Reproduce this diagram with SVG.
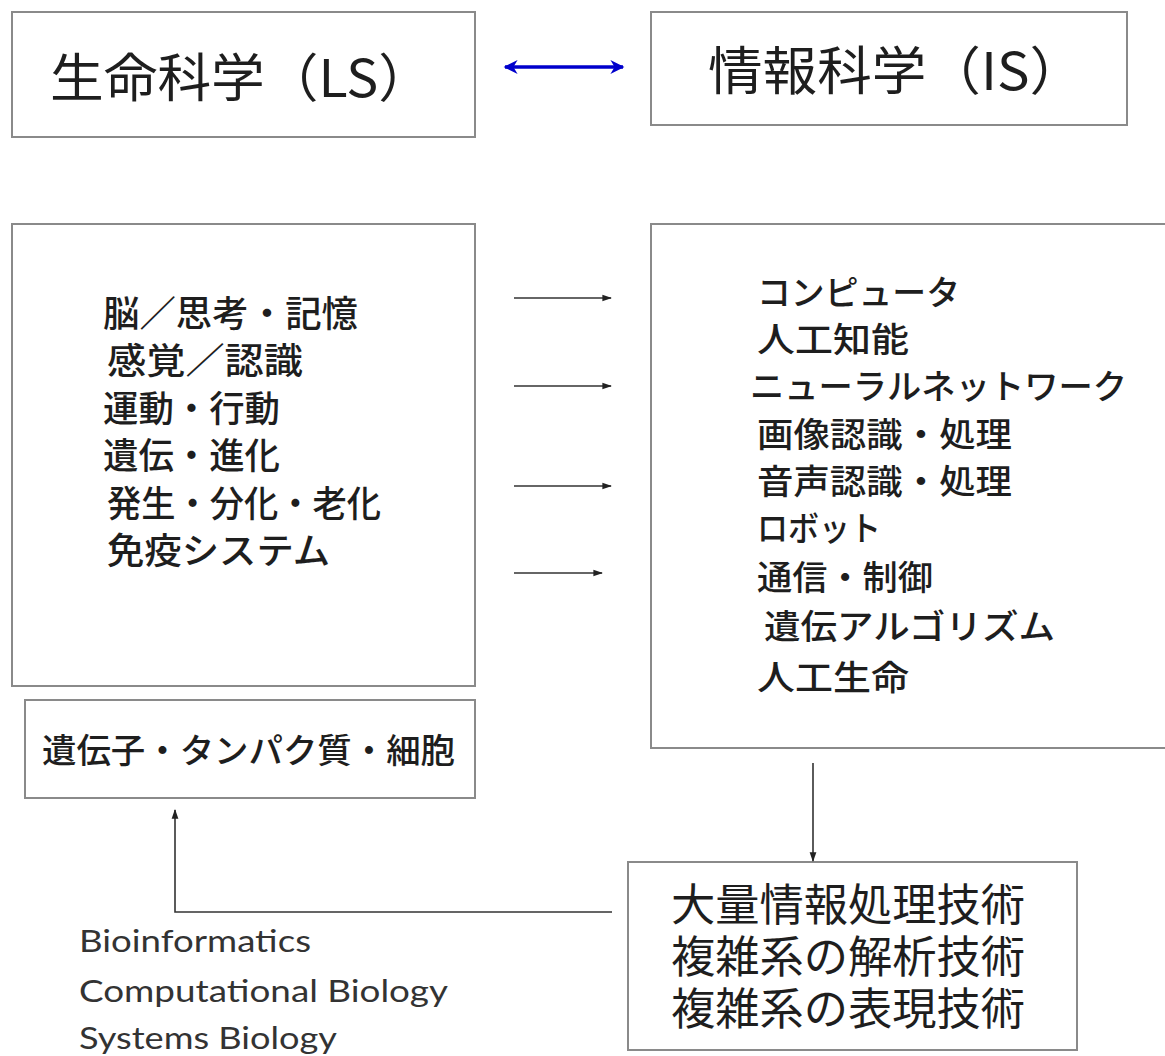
<svg xmlns="http://www.w3.org/2000/svg" width="1165" height="1056" viewBox="0 0 1165 1056">
<style>
.box{fill:#fff;stroke:#8a8a8a;stroke-width:2}
.jp{font-family:"Noto Sans CJK JP","Noto Sans CJK SC",sans-serif;fill:#1e1e1e}
.t1{font-size:52px}
.tl{font-size:36px;font-weight:500}
.tr{font-size:34px;font-weight:500}
.t3{font-size:44px}
.en{font-family:Lato,"Open Sans","Liberation Sans",sans-serif;font-size:31px;fill:#333}
.con{stroke:#333;stroke-width:1.6;fill:none}
</style>
<defs>
<marker id="ah" viewBox="0 0 10 10" refX="9" refY="5" markerWidth="6" markerHeight="6" orient="auto" markerUnits="strokeWidth">
<path d="M0,1.5 L10,5 L0,8.5 Z" fill="#222"/>
</marker>
<marker id="bh" viewBox="0 0 10 10" refX="9" refY="5" markerWidth="5.5" markerHeight="4" orient="auto-start-reverse" markerUnits="strokeWidth">
<path d="M0,0 L10,5 L0,10 L3,5 Z" fill="#0000cc"/>
</marker>
</defs>
<rect width="1165" height="1056" fill="#fff"/>
<g id="ls">
<rect class="box" x="12" y="12" width="463" height="125"/>
<text class="jp t1" x="50" y="97" textLength="382" lengthAdjust="spacingAndGlyphs">生命科学（LS）</text>
</g>
<g id="is">
<rect class="box" x="651" y="12" width="476" height="113"/>
<text class="jp t1" x="708" y="90" textLength="376" lengthAdjust="spacingAndGlyphs">情報科学（IS）</text>
</g>
<g id="ls-list">
<rect class="box" x="12" y="224" width="463" height="462"/>
<text class="jp tl" x="103" y="327" textLength="255" lengthAdjust="spacingAndGlyphs">脳／思考・記憶</text>
<text class="jp tl" x="107" y="374" textLength="196" lengthAdjust="spacingAndGlyphs">感覚／認識</text>
<text class="jp tl" x="103" y="422" textLength="177" lengthAdjust="spacingAndGlyphs">運動・行動</text>
<text class="jp tl" x="103" y="469" textLength="177" lengthAdjust="spacingAndGlyphs">遺伝・進化</text>
<text class="jp tl" x="107" y="517" textLength="274" lengthAdjust="spacingAndGlyphs">発生・分化・老化</text>
<text class="jp tl" x="107" y="564" textLength="223" lengthAdjust="spacingAndGlyphs">免疫システム</text>
</g>
<g id="is-list">
<rect class="box" x="651" y="224" width="520" height="524"/>
<text class="jp tr" x="757" y="305" textLength="203" lengthAdjust="spacingAndGlyphs">コンピュータ</text>
<text class="jp tr" x="757" y="352" textLength="152" lengthAdjust="spacingAndGlyphs">人工知能</text>
<text class="jp tr" x="750" y="399" textLength="377" lengthAdjust="spacingAndGlyphs">ニューラルネットワーク</text>
<text class="jp tr" x="757" y="447" textLength="255" lengthAdjust="spacingAndGlyphs">画像認識・処理</text>
<text class="jp tr" x="757" y="494" textLength="255" lengthAdjust="spacingAndGlyphs">音声認識・処理</text>
<text class="jp tr" x="757" y="541" textLength="124" lengthAdjust="spacingAndGlyphs">ロボット</text>
<text class="jp tr" x="757" y="590" textLength="176" lengthAdjust="spacingAndGlyphs">通信・制御</text>
<text class="jp tr" x="764" y="639" textLength="291" lengthAdjust="spacingAndGlyphs">遺伝アルゴリズム</text>
<text class="jp tr" x="757" y="690" textLength="152" lengthAdjust="spacingAndGlyphs">人工生命</text>
</g>
<g id="molecular">
<rect class="box" x="25" y="700" width="450" height="98"/>
<text class="jp tr" x="42" y="763" textLength="413" lengthAdjust="spacingAndGlyphs">遺伝子・タンパク質・細胞</text>
</g>
<g id="tech">
<rect class="box" x="628" y="862" width="449" height="188"/>
<text class="jp t3" x="671" y="921" textLength="354" lengthAdjust="spacingAndGlyphs">大量情報処理技術</text>
<text class="jp t3" x="671" y="973" textLength="354" lengthAdjust="spacingAndGlyphs">複雑系の解析技術</text>
<text class="jp t3" x="671" y="1025" textLength="354" lengthAdjust="spacingAndGlyphs">複雑系の表現技術</text>
</g>
<g id="fields">
<text class="en" x="79" y="952" textLength="232" lengthAdjust="spacingAndGlyphs">Bioinformatics</text>
<text class="en" x="79" y="1002" textLength="369" lengthAdjust="spacingAndGlyphs">Computational Biology</text>
<text class="en" x="79" y="1049" textLength="258" lengthAdjust="spacingAndGlyphs">Systems Biology</text>
</g>
<g id="connectors">
<line x1="505" y1="67" x2="623" y2="67" stroke="#0000cc" stroke-width="3.5" marker-start="url(#bh)" marker-end="url(#bh)"/>
<line class="con" x1="514" y1="298" x2="611" y2="298" marker-end="url(#ah)"/>
<line class="con" x1="514" y1="386" x2="611" y2="386" marker-end="url(#ah)"/>
<line class="con" x1="514" y1="486" x2="611" y2="486" marker-end="url(#ah)"/>
<line class="con" x1="514" y1="573" x2="602" y2="573" marker-end="url(#ah)"/>
<line class="con" x1="813" y1="763" x2="813" y2="861" marker-end="url(#ah)"/>
<polyline class="con" points="612,912 175,912 175,810" marker-end="url(#ah)"/>
</g>
</svg>
